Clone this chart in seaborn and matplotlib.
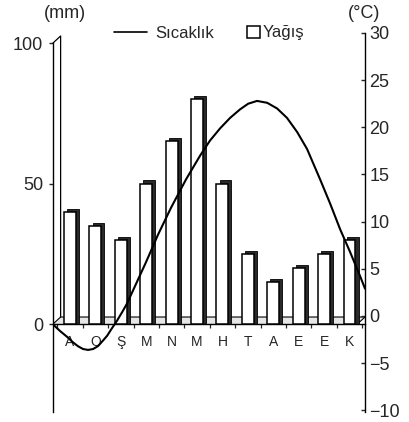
import matplotlib
matplotlib.use('Agg')
import matplotlib.pyplot as plt
import seaborn as sns
import numpy as np
import pandas as pd
from matplotlib.lines import Line2D
from matplotlib.patches import Rectangle

# ---- data ----
months = ['A', 'O', 'Ş', 'M', 'N', 'M', 'H', 'T', 'A', 'E', 'E', 'K']
rain_mm = [40, 35, 30, 50, 65, 80, 50, 25, 15, 20, 25, 30]
# temperature curve (x in month positions, value in °C)
temp_pos = [-0.67, -0.39, -0.12, 0.12, 0.31, 0.51, 0.71, 0.91, 1.10, 1.30,
            1.46, 1.65, 1.85, 2.05, 2.24, 2.99, 3.46, 3.98, 4.57, 5.12,
            5.51, 5.91, 6.30, 6.69, 7.01, 7.36, 7.76, 8.15, 8.54, 8.94,
            9.33, 9.84, 10.24, 10.63, 11.02, 11.42, 11.61]
temp_c = [-0.9, -1.6, -2.2, -2.8, -3.2, -3.5, -3.6, -3.5, -3.2, -2.6,
          -2.1, -1.3, -0.5, 0.4, 1.3, 5.7, 8.6, 11.5, 14.5, 17.0,
          18.6, 19.9, 21.0, 21.9, 22.5, 22.8, 22.6, 22.0, 21.0, 19.5,
          17.7, 14.5, 11.9, 9.2, 6.8, 4.2, 2.9]
mm_ticks = [0, 50, 100]
c_ticks = [-10, -5, 0, 5, 10, 15, 20, 25, 30]
legend_labels = ['Sıcaklık', 'Yağış']
unit_labels = ['(mm)', '(°C)']

# ---- style ----
sns.set_style('white')
plt.rcParams['font.family'] = ['Liberation Sans', 'DejaVu Sans']

W, H = 410, 422
fig = plt.figure(figsize=(W / 100, H / 100), dpi=100)
ax = fig.add_axes([53 / W, 1 - 412 / H, (365 - 53) / W, (412 - 33) / H])

XLIM = (-0.67, 11.61)
MM_LIM = (-31.3, 103.56)
C_LIM = (-10.18, 30.0)
FD_X, FD_Y = 0.30, 2.5        # floor depth (x units, mm)
BD_X, BD_Y = 0.12, 1.1        # bar depth (x units, mm)
BAR_W = 0.47

df = pd.DataFrame({'idx': np.arange(len(months)), 'rain': rain_mm})

# floor
x0, x1 = XLIM
ax.fill([x0, x1 - FD_X, x1, x0 + FD_X], [0, 0, FD_Y, FD_Y],
        color='#e6e6e6', zorder=1, lw=0)
ax.plot([x0, x0 + FD_X, x1], [0, FD_Y, FD_Y], color='black', lw=0.8, zorder=1.5)
ax.plot([x1 - FD_X, x1], [0, FD_Y], color='black', lw=0.8, zorder=1.5, clip_on=False)
# back wall edge
ax.plot([x0, x0 + FD_X, x0 + FD_X], [100, 100 + FD_Y, FD_Y],
        color='black', lw=0.9, zorder=1.5, clip_on=False)

# bar depth (side / top)
ax.bar(df['idx'] + BD_X, df['rain'] + BD_Y, width=BAR_W, bottom=0,
       color='#2a2a2a', edgecolor='black', lw=0.6, zorder=2)
# bar fronts
sns.barplot(data=df, x='idx', y='rain', ax=ax, color='white', saturation=1,
            edgecolor='black', linewidth=1.1, width=BAR_W, errorbar=None,
            zorder=3)

ax.set_xlabel('')
ax.set_ylabel('')
ax.set_ylim(*MM_LIM)
ax.set_yticks(mm_ticks)
ax.set_yticklabels([str(t) for t in mm_ticks], fontsize=13)
ax.tick_params(axis='y', direction='out', length=3, width=1, pad=4, left=True)

ax.set_xticks(np.arange(len(months)))
ax.set_xticklabels(months, fontsize=13)
ax.set_xticks(np.arange(len(months) + 1) - 0.5, minor=True)
ax.tick_params(axis='x', which='major', length=0, pad=8)
ax.tick_params(axis='x', which='minor', direction='out', length=3, width=0.9, bottom=True)

for s in ['top', 'right']:
    ax.spines[s].set_visible(False)
ax.spines['bottom'].set_position(('data', 0))
ax.spines['bottom'].set_linewidth(1.0)
ax.spines['left'].set_bounds(MM_LIM[0], 100)
ax.spines['left'].set_linewidth(1.0)
ax.spines['left'].set_color('black')
ax.spines['bottom'].set_color('black')

# temperature
ax2 = ax.twinx()
sns.lineplot(x=temp_pos, y=temp_c, ax=ax2, color='black', lw=1.5, legend=False)
ax2.set_ylim(*C_LIM)
ax2.set_yticks(c_ticks)
ax2.set_yticklabels([str(t).replace('-', '\u2212') for t in c_ticks], fontsize=13)
ax2.tick_params(axis='y', direction='in', length=3, width=1, pad=3, right=True)
for s in ['top', 'left', 'bottom']:
    ax2.spines[s].set_visible(False)
ax2.spines['right'].set_bounds(C_LIM[0], 30)
ax2.spines['right'].set_color('black')
ax2.spines['right'].set_linewidth(1.0)
ax2.set_xlabel('')
ax2.set_ylabel('')
ax.set_xlim(*XLIM)

# unit labels
fig.text(65 / W, 1 - 14 / H, unit_labels[0], fontsize=13, ha='center', va='center')
fig.text(364 / W, 1 - 14 / H, unit_labels[1], fontsize=13, ha='center', va='center')

# legends
fig.legend(handles=[Line2D([], [], color='black', lw=1.2)], labels=[legend_labels[0]],
           loc='center', bbox_to_anchor=(164 / W, 1 - 33 / H), frameon=False,
           fontsize=12, handlelength=2.0, handletextpad=0.5)
fig.legend(handles=[Rectangle((0, 0), 1, 1, facecolor='white', edgecolor='black', lw=1.1)],
           labels=[legend_labels[1]], loc='center', bbox_to_anchor=(276 / W, 1 - 33 / H),
           frameon=False, fontsize=12, handlelength=0.75, handleheight=0.75,
           handletextpad=0.2)

fig.savefig('out.png', dpi=100)
